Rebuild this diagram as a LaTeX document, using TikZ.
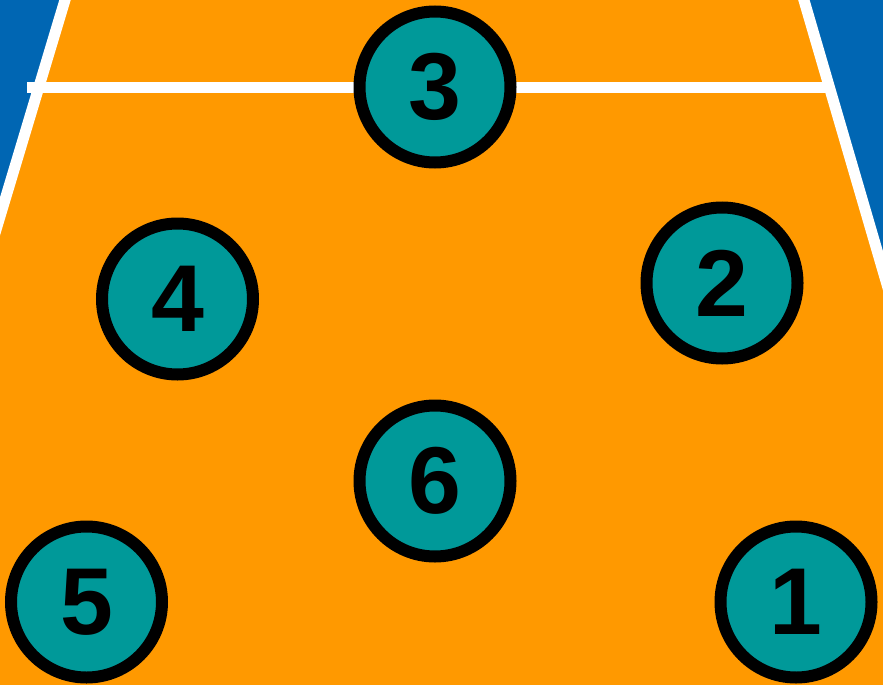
\documentclass[tikz,border=0pt]{standalone}
\usepackage{fontspec}
\setmainfont{Liberation Sans}
\definecolor{courtorange}{RGB}{255,153,0}
\definecolor{courtblue}{RGB}{0,102,179}
\definecolor{playerteal}{RGB}{0,153,153}
\tikzset{
  player/.style={circle, draw=black, line width=12pt, fill=playerteal,
    minimum size=151pt, inner sep=0pt,
    font=\fontsize{95}{95}\selectfont\bfseries, text=black},
  courtline/.style={white, line width=11pt}
}
\begin{document}
\begin{tikzpicture}[x=1pt,y=-1pt]
\useasboundingbox (0,0) rectangle (883,685);
\clip (0,0) rectangle (883,685);
\fill[courtorange] (0,0) rectangle (883,685);
\fill[courtblue] (-10,-10) -- (65,0) -- (-20,283) -- cycle;
\fill[courtblue] (804,0) -- (893,-10) -- (893,304) -- cycle;
\coordinate (lt) at (68,-10);
\coordinate (lb) at (-20,283);
\coordinate (rt) at (801,-10);
\coordinate (rb) at (900,329);
\coordinate (ml) at (27,87.5);
\coordinate (mr) at (826,87.5);
\draw[courtline] (lt) -- (lb);
\draw[courtline] (rt) -- (rb);
\draw[courtline] (ml) -- (mr);
\node[player] (p3) at (435,87) {3};
\node[player] (p4) at (177.5,299) {4};
\node[player] (p2) at (722,283) {2};
\node[player] (p6) at (435,481) {6};
\node[player] (p5) at (86.5,602) {5};
\node[player] (p1) at (796,602) {1};
\end{tikzpicture}
\end{document}
